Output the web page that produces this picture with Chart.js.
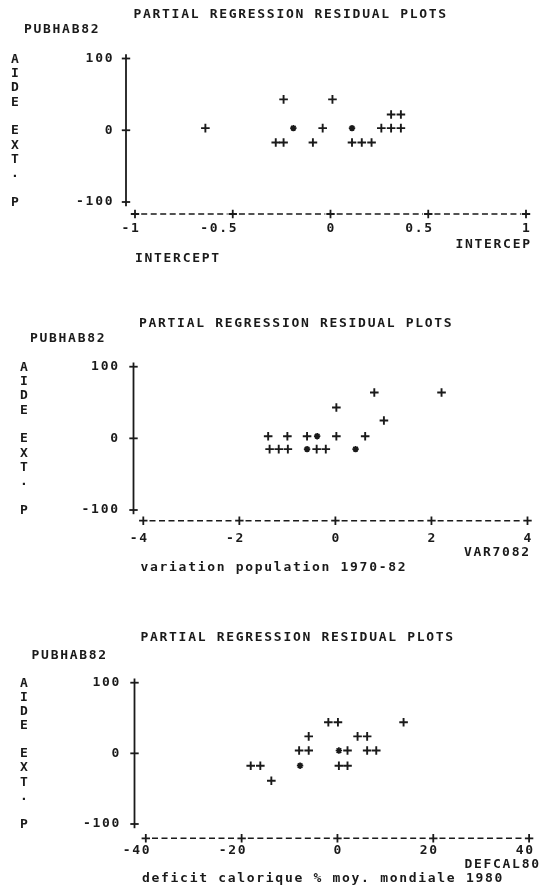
<!DOCTYPE html>
<html>
<head>
<meta charset="utf-8">
<script src="https://cdn.jsdelivr.net/npm/chart.js@4.4.1/dist/chart.umd.min.js"></script>
<style>
  html, body { margin:0; padding:0; background:#fff; }
  #page { position:relative; width:548px; height:892px; overflow:hidden; background:#fff; }
  canvas { position:absolute; left:0; top:0; }
  .t { position:absolute; font-family:"DejaVu Sans Mono", monospace; font-size:13px; line-height:16px;
       letter-spacing:1.7px; color:#1a1a1a; white-space:pre; font-weight:bold; }
</style>
</head>
<body>
<div id="page">
  <canvas id="c1" width="548" height="892"></canvas>
  <canvas id="c2" width="548" height="892"></canvas>
  <canvas id="c3" width="548" height="892"></canvas>
</div>
<script>
// ---------------- data ----------------
const titleText = "PARTIAL REGRESSION RESIDUAL PLOTS";
const depVarText = "PUBHAB82";
const yAxisLetters = ["A","I","D","E","","E","X","T",".","","P"];
const yTicksRange = [-100, 100];
const yTickStep = 100;

// Panel 1 : INTERCEPT
const p1Range = [-1, 1];
const p1Step = 0.5;
const p1PlusX = [-0.64, -0.24, 0.01, 0.31, 0.36, -0.04, 0.26, 0.31, 0.36, -0.28, -0.24, -0.09, 0.11, 0.16, 0.21];
const p1PlusY = [3, 43, 43, 22, 22, 3, 3, 3, 3, -17, -17, -17, -17, -17, -17];
const p1StarX = [-0.19, 0.11];
const p1StarY = [3, 3];

// Panel 2 : VAR7082
const p2Range = [-4, 4];
const p2Step = 2;
const p2PlusX = [0.81, 2.21, 0.02, 1.01, -1.40, -1.00, -0.59, 0.02, 0.62, -1.37, -1.18, -0.99, -0.39, -0.20];
const p2PlusY = [64, 64, 43, 25, 3, 3, 3, 3, 3, -15, -15, -15, -15, -15];
const p2StarX = [-0.38, -0.59, 0.42];
const p2StarY = [3, -15, -15];

// Panel 3 : DEFCAL80
const p3Range = [-40, 40];
const p3Step = 20;
const p3PlusX = [-1.9, 0.1, 13.8, -6.0, 4.2, 6.2, -8.0, -6.0, 2.1, 6.2, 8.1, -18.1, -16.1, 0.3, 2.1, -13.8];
const p3PlusY = [44, 44, 44, 24, 24, 24, 4, 4, 4, 4, 4, -17.5, -17.5, -17.5, -17.5, -38.7];
const p3StarX = [0.3, -7.8];
const p3StarY = [4, -17.5];

// ---------------- layout / style ----------------
const INK = "#1a1a1a";
const W = 548, H = 892;
const LS = 1.7;          // letter spacing (line printer pitch)
const ARM = 4.2;         // half size of '+' marks
const FONT = { family: "DejaVu Sans Mono", size: 13, weight: "bold" };
const X_AXIS_H = 50;

const panels = [
  { canvas:"c1", range:p1Range, step:p1Step, px:p1PlusX, py:p1PlusY, sx:p1StarX, sy:p1StarY,
    left:135, right:526, top:58.5, bottom:202, yGap:9, xGap:12, xLblPad:19.2, yLblPad:20.8,
    title:[133.5,13.5], dep:[24,29], lettersX:15,
    varName:"INTERCEP", varPos:[530,244], desc:"INTERCEPT", descPos:[135,258] },
  { canvas:"c2", range:p2Range, step:p2Step, px:p2PlusX, py:p2PlusY, sx:p2StarX, sy:p2StarY,
    left:143.3, right:534, top:366.7, bottom:510, yGap:9.8, xGap:10.7, xLblPad:20.5, yLblPad:23.6,
    title:[139,322.7], dep:[30,338], lettersX:24,
    varName:"VAR7082", varPos:[529,551.7], desc:"variation population 1970-82", descPos:[140.5,566.7] },
  { canvas:"c3", range:p3Range, step:p3Step, px:p3PlusX, py:p3PlusY, sx:p3StarX, sy:p3StarY,
    left:145.8, right:536.4, top:682.7, bottom:824, yGap:11.3, xGap:14.3, xLblPad:18.9, yLblPad:24.7,
    title:[140.5,637.3], dep:[31.6,655], lettersX:24,
    varName:"DEFCAL80", varPos:[539,864.3], desc:"deficit calorique % moy. mondiale 1980", descPos:[142,878.3] }
];

const page = document.getElementById("page");
function addText(txt, x, cy, align) {
  const d = document.createElement("div");
  d.className = "t";
  d.textContent = txt;
  d.style.top = (cy - 8) + "px";
  if (align === "right") d.style.right = (W - x - LS) + "px";
  else if (align === "center") { d.style.left = (x - 20) + "px"; d.style.width = "40px"; d.style.textAlign = "center"; d.style.letterSpacing = "0"; }
  else d.style.left = x + "px";
  page.appendChild(d);
}

const printerAxes = {
  id: "printerAxes",
  beforeLayout(chart) { chart.ctx.letterSpacing = LS + "px"; },
  beforeDraw(chart) { chart.ctx.letterSpacing = LS + "px"; },
  afterDraw(chart, args, opts) {
    const { ctx, chartArea, scales } = chart;
    const x = scales.x, y = scales.y;
    const ax = chartArea.left - opts.yGap;
    const ay = chartArea.bottom + opts.xGap;
    ctx.save();
    ctx.strokeStyle = INK;
    ctx.lineWidth = 1.8;
    ctx.setLineDash([]);
    // vertical axis "|" with "+" at ticks
    const yTop = y.getPixelForValue(y.max), yBot = y.getPixelForValue(y.min);
    ctx.beginPath(); ctx.moveTo(ax, yTop - ARM); ctx.lineTo(ax, yBot + ARM); ctx.stroke();
    y.ticks.forEach(t => {
      const py = y.getPixelForValue(t.value);
      ctx.beginPath(); ctx.moveTo(ax - ARM, py); ctx.lineTo(ax + ARM, py); ctx.stroke();
    });
    // horizontal axis "+-----+"
    const xs = x.ticks.map(t => x.getPixelForValue(t.value));
    xs.forEach(px => {
      ctx.beginPath();
      ctx.moveTo(px - ARM, ay); ctx.lineTo(px + ARM, ay);
      ctx.moveTo(px, ay - ARM); ctx.lineTo(px, ay + ARM);
      ctx.stroke();
    });
    ctx.setLineDash([6, 3.5]);
    ctx.lineWidth = 1.5;
    for (let i = 0; i < xs.length - 1; i++) {
      ctx.beginPath();
      ctx.moveTo(xs[i] + ARM + 2, ay); ctx.lineTo(xs[i + 1] - ARM - 1, ay);
      ctx.stroke();
    }
    ctx.restore();
  }
};

const fmt = v => String(Math.round(v * 1000) / 1000);

panels.forEach(p => {
  const plus = p.px.map((v, i) => ({ x: v, y: p.py[i] }));
  const star = p.sx.map((v, i) => ({ x: v, y: p.sy[i] }));
  const chart = new Chart(document.getElementById(p.canvas), {
    type: "scatter",
    data: {
      datasets: [
        { label: "+", data: plus, pointStyle: "cross", pointRadius: 4.3, pointBorderWidth: 1.9,
          borderColor: INK, backgroundColor: INK, pointHoverRadius: 4.3 },
        { label: "*", data: star, pointStyle: "star", pointRadius: 3.2, pointBorderWidth: 1.7,
          borderColor: INK, backgroundColor: INK, pointHoverRadius: 3.2 }
      ]
    },
    options: {
      responsive: false,
      animation: false,
      events: [],
      layout: { padding: { left: 0, top: p.top, right: W - p.right, bottom: H - p.bottom - X_AXIS_H } },
      plugins: {
        legend: { display: false },
        title: { display: false },
        tooltip: { enabled: false },
        printerAxes: { yGap: p.yGap, xGap: p.xGap }
      },
      scales: {
        x: {
          type: "linear", position: "bottom",
          min: p.range[0], max: p.range[1],
          grid: { display: false, drawTicks: false },
          border: { display: false },
          ticks: { stepSize: p.step, autoSkip: false, maxRotation: 0, minRotation: 0,
                   align: "end", labelOffset: 5.6, padding: p.xLblPad,
                   font: FONT, color: INK, callback: fmt },
          afterFit(s) { s.height = X_AXIS_H; }
        },
        y: {
          type: "linear", position: "left",
          min: yTicksRange[0], max: yTicksRange[1],
          grid: { display: false, drawTicks: false },
          border: { display: false },
          ticks: { stepSize: yTickStep, padding: p.yLblPad, font: FONT, color: INK, callback: fmt },
          afterFit(s) { s.width = p.left; }
        }
      }
    },
    plugins: [printerAxes]
  });

  // texts
  addText(titleText, p.title[0], p.title[1]);
  addText(depVarText, p.dep[0], p.dep[1]);
  addText(p.varName, p.varPos[0], p.varPos[1], "right");
  addText(p.desc, p.descPos[0], p.descPos[1]);
  const ys = chart.scales.y;
  yAxisLetters.forEach((ch, i) => {
    if (!ch) return;
    const v = yTicksRange[1] - i * (yTicksRange[1] - yTicksRange[0]) / (yAxisLetters.length - 1);
    addText(ch, p.lettersX, ys.getPixelForValue(v), "center");
  });
});
</script>
</body>
</html>
